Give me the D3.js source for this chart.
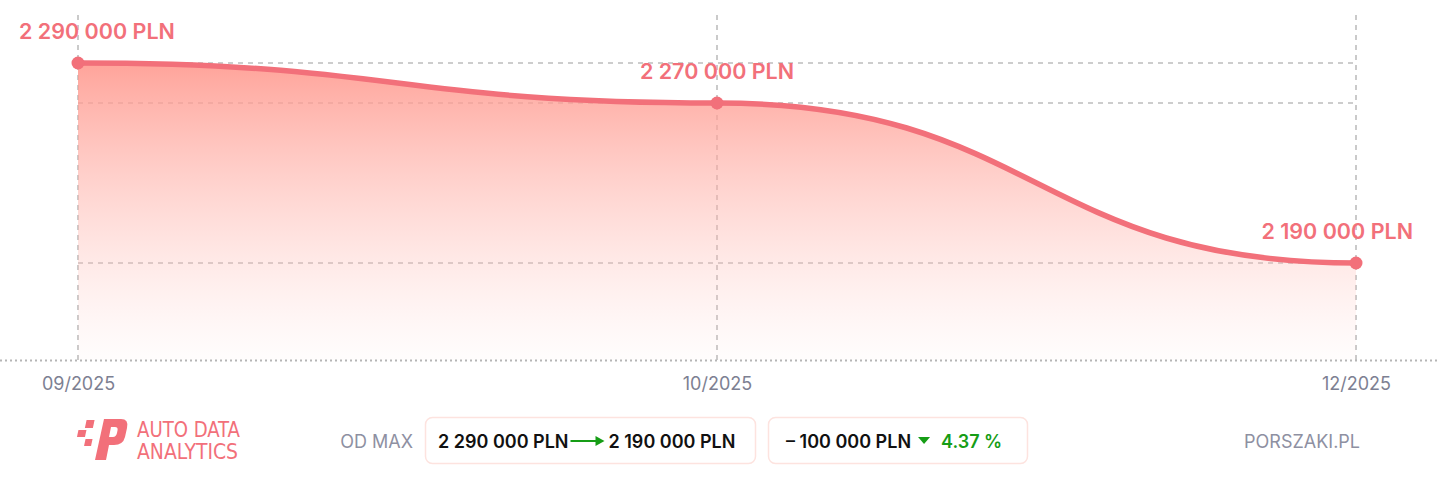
<!DOCTYPE html>
<html>
<head>
<meta charset="utf-8">
<script src="https://cdn.jsdelivr.net/npm/d3@7"></script>
<style>
  html, body { margin: 0; padding: 0; background: #fff; }
  svg { display: block; }
</style>
</head>
<body>
<svg id="chart"></svg>
<script>
const w = 1440;
const h = 496;

// data
const months = ['09/2025', '10/2025', '12/2025'];
const prices = [2290000, 2270000, 2190000];
const fromPrice = 2290000;
const toPrice = 2190000;
const diffPrice = -100000;
const diffPct = 4.37;

const pink = '#f2707a';
const grey = '#7d8092';
const green = '#169d16';

const fmt = (v) => d3.format(',')(Math.abs(v)).replace(/,/g, ' ') + ' PLN';

let canvas = d3.select('#chart').attr('width', w).attr('height', h);

const points = months.map((m, i) => ({ m: m, v: prices[i] }));

const xScale = d3.scalePoint().domain(months).range([78, 1356]);
const yScale = d3.scaleLinear().domain([2141500, 2290000]).range([360, 63]);
const baseY = yScale(2141500);

// gradient for the area
const defs = canvas.append('defs');
const grad = defs
  .append('linearGradient')
  .attr('id', 'fillGrad')
  .attr('gradientUnits', 'userSpaceOnUse')
  .attr('x1', 0).attr('x2', 0)
  .attr('y1', yScale(d3.max(prices))).attr('y2', baseY);
grad.append('stop').attr('offset', '0%').attr('stop-color', '#ff978c').attr('stop-opacity', 0.88);
grad.append('stop').attr('offset', '55%').attr('stop-color', '#ffb4ac').attr('stop-opacity', 0.42);
grad.append('stop').attr('offset', '100%').attr('stop-color', '#ffd0cc').attr('stop-opacity', 0.05);

// grid lines
const grid = canvas.append('g').attr('class', 'grid');
grid
  .selectAll('line.v')
  .data(points)
  .enter()
  .append('line')
  .attr('x1', (d) => xScale(d.m))
  .attr('x2', (d) => xScale(d.m))
  .attr('y1', 15)
  .attr('y2', baseY)
  .attr('stroke', '#bdbdbd')
  .attr('stroke-width', 1.6)
  .attr('stroke-dasharray', '5,5');

grid
  .selectAll('line.h')
  .data(points)
  .enter()
  .append('line')
  .attr('x1', xScale(months[0]))
  .attr('x2', xScale(months[months.length - 1]))
  .attr('y1', (d) => yScale(d.v))
  .attr('y2', (d) => yScale(d.v))
  .attr('stroke', '#bdbdbd')
  .attr('stroke-width', 1.6)
  .attr('stroke-dasharray', '5,5');

// area + line
const area = d3
  .area()
  .x((d) => xScale(d.m))
  .y0(baseY)
  .y1((d) => yScale(d.v))
  .curve(d3.curveBumpX);

const line = d3
  .line()
  .x((d) => xScale(d.m))
  .y((d) => yScale(d.v))
  .curve(d3.curveBumpX);

canvas.append('path').datum(points).attr('d', area).attr('fill', 'url(#fillGrad)');

// baseline (dotted)
canvas
  .append('line')
  .attr('x1', 0)
  .attr('x2', w)
  .attr('y1', baseY + 0.5)
  .attr('y2', baseY + 0.5)
  .attr('stroke', '#b5b5b5')
  .attr('stroke-width', 2)
  .attr('stroke-dasharray', '2,3');

canvas
  .append('path')
  .datum(points)
  .attr('d', line)
  .attr('fill', 'none')
  .attr('stroke', pink)
  .attr('stroke-width', 5.5)
  .attr('stroke-linecap', 'round');

canvas
  .selectAll('circle.pt')
  .data(points)
  .enter()
  .append('circle')
  .attr('cx', (d) => xScale(d.m))
  .attr('cy', (d) => yScale(d.v))
  .attr('r', 6.5)
  .attr('fill', pink);

// value labels, kept inside the frame
canvas
  .selectAll('text.val')
  .data(points)
  .enter()
  .append('text')
  .attr('class', 'val')
  .attr('y', (d) => yScale(d.v) - 24)
  .attr('font-family', 'Inter, sans-serif')
  .attr('font-weight', 600)
  .attr('font-size', '21.5px')
  .attr('fill', pink)
  .text((d) => fmt(d.v))
  .each(function (d) {
    const tw = this.getComputedTextLength();
    let x = xScale(d.m) - tw / 2;
    x = Math.max(19, Math.min(1413 - tw, x));
    d3.select(this).attr('x', x);
  });

// x axis
const xAxis = d3.axisBottom(xScale).tickSize(0).tickPadding(0);
const gx = canvas
  .append('g')
  .attr('id', 'x-axis')
  .attr('transform', `translate(0, ${baseY + 30})`)
  .call(xAxis);
gx.select('.domain').remove();
gx.selectAll('text')
  .attr('font-family', 'Inter, sans-serif')
  .attr('font-size', '18px')
  .attr('fill', grey)
  .attr('dy', 0);

// footer: logo
const logo = canvas.append('g').attr('transform', 'translate(78, 418)').attr('fill', pink);
logo.append('rect').attr('x', 9).attr('y', 2).attr('width', 8).attr('height', 8).attr('transform', 'skewX(-12)');
logo.append('rect').attr('x', 3).attr('y', 12).attr('width', 8).attr('height', 7).attr('transform', 'skewX(-12)');
logo.append('rect').attr('x', 12).attr('y', 21).attr('width', 7).attr('height', 7).attr('transform', 'skewX(-12)');
logo
  .append('path')
  .attr('fill-rule', 'evenodd')
  .attr(
    'd',
    'M26 1 L43 1 Q51 1 49 10 L47 19 Q45 27 36 27 L31 27 L28 42 L17 42 Z M33 9 L31 19 L35 19 Q38 19 39 15 L39.6 12 Q40 9 37 9 Z'
  );

const logoFont = '"Liberation Sans Narrow", "DejaVu Sans Condensed", sans-serif';
canvas
  .append('text')
  .attr('x', 137)
  .attr('y', 437)
  .attr('font-family', logoFont)
  .attr('font-size', '21px')
  .attr('fill', pink)
  .attr('textLength', 103)
  .attr('lengthAdjust', 'spacingAndGlyphs')
  .text('AUTO DATA');
canvas
  .append('text')
  .attr('x', 137)
  .attr('y', 459)
  .attr('font-family', logoFont)
  .attr('font-size', '21px')
  .attr('fill', pink)
  .attr('textLength', 101)
  .attr('lengthAdjust', 'spacingAndGlyphs')
  .text('ANALYTICS');

// footer: OD MAX + boxes
canvas
  .append('text')
  .attr('x', 413)
  .attr('y', 447.5)
  .attr('text-anchor', 'end')
  .attr('font-family', 'Inter, sans-serif')
  .attr('font-size', '18px')
  .attr('fill', '#8e90a2')
  .text('OD MAX');

const boxes = [
  { x: 425, w: 330 },
  { x: 768, w: 259 },
];
canvas
  .selectAll('rect.box')
  .data(boxes)
  .enter()
  .append('rect')
  .attr('x', (d) => d.x + 0.5)
  .attr('y', 417.5)
  .attr('width', (d) => d.w)
  .attr('height', 46)
  .attr('rx', 7)
  .attr('fill', '#fff')
  .attr('stroke', '#fde3df')
  .attr('stroke-width', 1.5);

const boldTxt = (x, t, color) => {
  const el = canvas
    .append('text')
    .attr('x', x)
    .attr('y', 447.5)
    .attr('font-family', 'Inter, sans-serif')
    .attr('font-weight', 600)
    .attr('font-size', '18px')
    .attr('fill', color)
    .text(t);
  return x + el.node().getComputedTextLength();
};

let cx = boldTxt(438, fmt(fromPrice), '#111');
canvas
  .append('line')
  .attr('x1', cx + 2).attr('x2', cx + 28)
  .attr('y1', 441).attr('y2', 441)
  .attr('stroke', green).attr('stroke-width', 2);
canvas.append('path').attr('d', `M${cx + 27} 436 L${cx + 36} 441 L${cx + 27} 446 Z`).attr('fill', green);
boldTxt(cx + 40, fmt(toPrice), '#111');

cx = boldTxt(786, (diffPrice < 0 ? '\u2013 ' : '') + fmt(diffPrice), '#111');
canvas.append('path').attr('d', `M${cx + 7} 437 L${cx + 19} 437 L${cx + 13} 444 Z`).attr('fill', green);
boldTxt(cx + 30, diffPct.toFixed(2) + ' %', green);

canvas
  .append('text')
  .attr('x', 1360)
  .attr('y', 447.5)
  .attr('text-anchor', 'end')
  .attr('font-family', 'Inter, sans-serif')
  .attr('font-size', '18px')
  .attr('fill', '#8e90a2')
  .text('PORSZAKI.PL');
</script>
</body>
</html>
